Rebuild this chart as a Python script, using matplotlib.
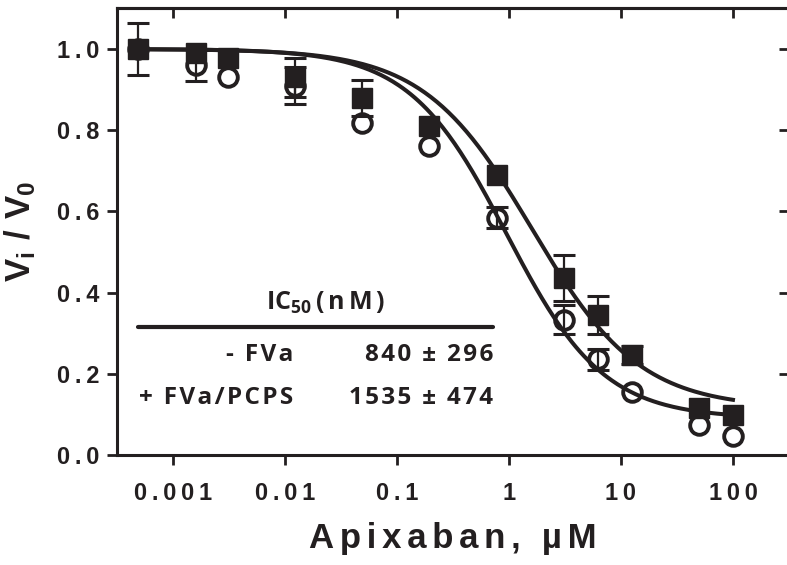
import numpy as np
import matplotlib
matplotlib.use('Agg')
import matplotlib.pyplot as plt

# Apixaban concentration (uM)
conc = [0.00049, 0.0016, 0.0031, 0.0122, 0.049, 0.195, 0.78, 3.125, 6.25, 12.5, 50, 100]

# + FVa/PCPS (filled squares)
vi_pcps = [1.0, 0.99, 0.977, 0.93, 0.88, 0.81, 0.69, 0.436, 0.345, 0.246, 0.116, 0.099]
err_pcps = [0.064, 0.0, 0.0, 0.048, 0.044, 0.0, 0.0, 0.057, 0.046, 0.022, 0.0, 0.0]

# - FVa (open circles)
vi_free = [1.0, 0.96, 0.93, 0.91, 0.817, 0.76, 0.584, 0.333, 0.236, 0.155, 0.074, 0.047]
err_free = [0.0, 0.04, 0.0, 0.046, 0.0, 0.0, 0.026, 0.036, 0.026, 0.0, 0.0, 0.0]

# fitted curve parameters (top, bottom, IC50 uM, hill)
fit_pcps = (1.0, 0.115, 1.6, 0.9)
fit_free = (1.0, 0.09, 0.95, 1.0)

xticks = [0.001, 0.01, 0.1, 1, 10, 100]
xticklabels = ['0.001', '0.01', '0.1', '1', '10', '100']
yticks = [0.0, 0.2, 0.4, 0.6, 0.8, 1.0]
yticklabels = ['0.0', '0.2', '0.4', '0.6', '0.8', '1.0']

ic50_rows = ['- FVa', '+ FVa/PCPS']
ic50_vals = ['840 \u00b1 296', '1535 \u00b1 474']

THIN = '\u2009'
HAIR = '\u200a'
ARIAL = ['Liberation Sans', 'DejaVu Sans']
CALIBRI = ['Open Sans', 'DejaVu Sans']
INK = '#231f20'

plt.rcParams['mathtext.fontset'] = 'custom'
plt.rcParams['mathtext.bf'] = 'Liberation Sans:bold'
plt.rcParams['mathtext.sf'] = 'Open Sans:bold'
plt.rcParams['mathtext.rm'] = 'Open Sans:bold'


def spaced(s, sp=THIN):
    return sp.join(s)


def logistic(x, p):
    top, bottom, ic50, hill = p
    return bottom + (top - bottom) / (1 + (x / ic50) ** hill)


fig = plt.figure(figsize=(7.87, 5.65), dpi=100)
ax = fig.add_axes([0.1487, 0.1947, 0.8538, 0.7904])

xs = np.logspace(np.log10(conc[0]), np.log10(conc[-1]), 300)
ax.plot(xs, logistic(xs, fit_pcps), color=INK, lw=2.9, zorder=2)
ax.plot(xs, logistic(xs, fit_free), color=INK, lw=2.9, zorder=2)

c = np.array(conc)
for vals, errs in [(vi_pcps, err_pcps), (vi_free, err_free)]:
    v = np.array(vals)
    e = np.array(errs)
    m = e > 0
    ax.errorbar(c[m], v[m], yerr=e[m], fmt='none', ecolor=INK, elinewidth=1.6,
                capsize=8, capthick=2.2, zorder=3)

ax.plot(conc, vi_pcps, 's', color=INK, ms=14, mew=1, zorder=4)
ax.plot(conc, vi_free, 'o', mfc='none', mec=INK, ms=13.4, mew=2.8, zorder=5)

ax.set_xscale('log')
ax.set_xlim(10 ** -3.5, 10 ** 2.5)
ax.set_ylim(0, 1.1)

ax.set_xticks(xticks, [spaced(t) for t in xticklabels])
ax.set_yticks(yticks, [spaced(t) for t in yticklabels])
ax.minorticks_off()
ax.tick_params(axis='both', direction='out', length=7.5, width=2.0, color=INK)
ax.tick_params(axis='x', pad=12)
ax.tick_params(axis='y', pad=5)
for lab in ax.get_xticklabels() + ax.get_yticklabels():
    lab.set_family(ARIAL)
    lab.set_fontweight('bold')
    lab.set_fontsize(17)
    lab.set_color(INK)

for side in ['left', 'bottom', 'top', 'right']:
    ax.spines[side].set_linewidth(2.2)
    ax.spines[side].set_color(INK)

top = ax.secondary_xaxis('top')
top.set_xticks(xticks)
top.tick_params(direction='in', length=7.5, width=2.0, labeltop=False, color=INK)
top.minorticks_off()
top.spines['top'].set_linewidth(2.2)
right = ax.secondary_yaxis('right')
right.set_yticks(yticks)
right.tick_params(direction='in', length=7.5, width=2.0, labelright=False, color=INK)

ax.set_xlabel(spaced('Apixaban, \u00b5M', HAIR + HAIR), family=ARIAL, fontweight='bold',
              fontsize=25, color=INK, labelpad=12)
ax.set_ylabel(r'$\mathbf{V_i\ /\ V_0}$', fontsize=25, color=INK, labelpad=14)

# IC50 table
ax.text(0.31, 0.34, r'$\mathsf{IC_{50}\,(\,n\,M\,)}$', transform=ax.transAxes,
        ha='center', va='center', fontsize=18, color=INK)
ax.plot([0.031, 0.560], [0.2866, 0.2866], transform=ax.transAxes, color=INK,
        lw=3, solid_capstyle='round', clip_on=False)
row_y = [0.224, 0.128]
for name, val, yy in zip(ic50_rows, ic50_vals, row_y):
    ax.text(0.262, yy, spaced(name, HAIR), transform=ax.transAxes, ha='right',
            va='center', family=CALIBRI, fontweight='bold', fontsize=17.5, color=INK)
    ax.text(0.560, yy, spaced(val, HAIR), transform=ax.transAxes, ha='right',
            va='center', family=CALIBRI, fontweight='bold', fontsize=17.5, color=INK)

fig.savefig('out.png', dpi=100)
